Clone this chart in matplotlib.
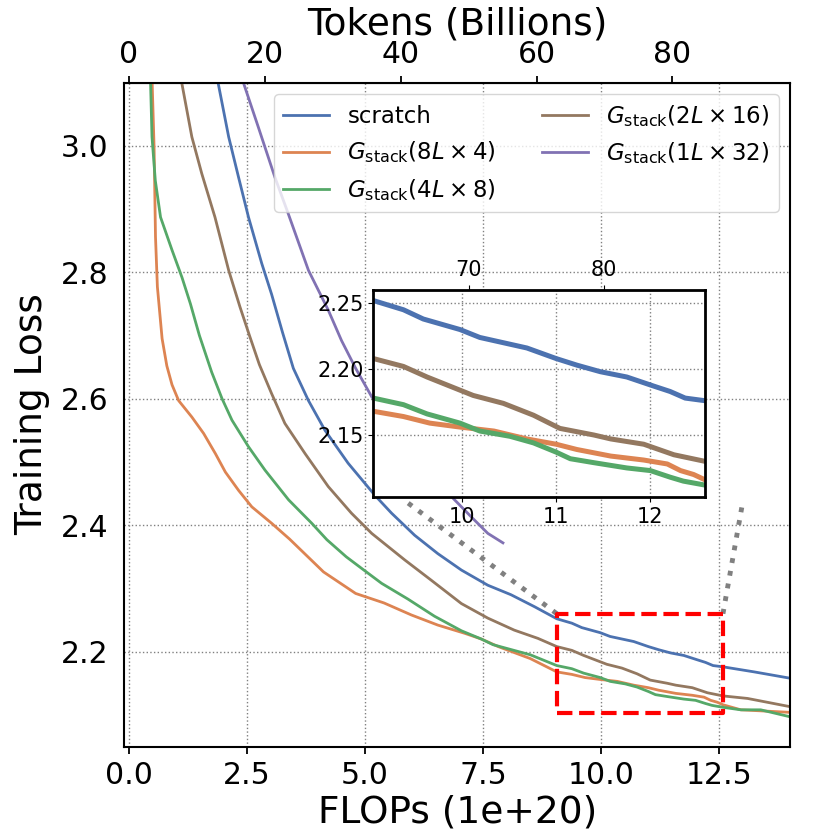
import matplotlib
matplotlib.use("Agg")
import matplotlib.pyplot as plt
from matplotlib.ticker import FormatStrFormatter

# FLOPs (1e+20) -> training loss
scratch_x = [1.84, 1.89, 2.11, 2.32, 2.53, 2.81, 3.02, 3.25, 3.48, 3.80, 4.15, 4.64, 5.21, 5.56, 6.05,
             6.54, 7.04, 7.60, 8.09, 8.59, 9.06, 9.38, 9.59, 9.98, 10.19, 10.44, 10.69, 11.0, 11.22,
             11.47, 11.75, 12.04, 12.21, 12.37, 12.58, 13.24, 14.0]
scratch_y = [3.12, 3.098, 3.014, 2.950, 2.887, 2.814, 2.765, 2.705, 2.648, 2.597, 2.550, 2.498, 2.447,
             2.419, 2.384, 2.355, 2.329, 2.305, 2.290, 2.271, 2.252, 2.245, 2.238, 2.230, 2.224, 2.220,
             2.216, 2.208, 2.203, 2.198, 2.194, 2.187, 2.183, 2.178, 2.176, 2.168, 2.158]

g8_x = [0.48, 0.49, 0.53, 0.56, 0.60, 0.70, 0.80, 0.91, 1.05, 1.33, 1.58, 1.83, 2.04, 2.32, 2.60, 3.02,
        3.40, 4.12, 4.8, 5.4, 5.98, 6.54, 7.11, 7.46, 7.82, 8.50, 9.06, 9.38, 9.66, 9.98, 10.34, 10.69,
        11.0, 11.22, 11.58, 11.93, 12.18, 12.32, 12.46, 12.58, 12.96, 14.0]
g8_y = [3.12, 3.098, 2.998, 2.856, 2.777, 2.695, 2.652, 2.622, 2.597, 2.571, 2.545, 2.513, 2.484, 2.455,
        2.429, 2.403, 2.378, 2.326, 2.292, 2.277, 2.258, 2.242, 2.229, 2.220, 2.208, 2.189, 2.168, 2.164,
        2.159, 2.156, 2.153, 2.147, 2.143, 2.139, 2.134, 2.131, 2.128, 2.123, 2.120, 2.116, 2.108, 2.104]

g4_x = [0.45, 0.456, 0.486, 0.556, 0.667, 0.91, 1.12, 1.30, 1.49, 1.75, 1.97, 2.18, 2.53, 2.88, 3.38,
        3.87, 4.19, 4.60, 4.92, 5.35, 5.91, 6.47, 7.04, 7.46, 7.71, 8.5, 9.06, 9.38, 9.63, 9.98, 10.19,
        10.51, 10.76, 11.0, 11.15, 11.40, 11.75, 12.0, 12.21, 12.35, 12.58, 12.96, 13.38, 14.0]
g4_y = [3.12, 3.098, 3.014, 2.945, 2.887, 2.835, 2.792, 2.750, 2.700, 2.642, 2.600, 2.566, 2.524, 2.487,
        2.440, 2.403, 2.377, 2.350, 2.332, 2.308, 2.283, 2.256, 2.233, 2.220, 2.211, 2.195, 2.178, 2.173,
        2.166, 2.159, 2.153, 2.149, 2.144, 2.137, 2.132, 2.129, 2.125, 2.123, 2.118, 2.115, 2.112, 2.108,
        2.108, 2.097]

g2_x = [1.08, 1.12, 1.33, 1.54, 1.82, 2.11, 2.35, 2.55, 2.76, 3.02, 3.30, 3.73, 4.22, 4.71, 5.14, 5.84,
        6.40, 7.04, 7.60, 8.16, 8.66, 9.06, 9.38, 9.63, 9.98, 10.12, 10.44, 10.76, 11.04, 11.40, 11.58,
        11.93, 12.25, 12.58, 13.10, 14.0]
g2_y = [3.12, 3.098, 3.014, 2.956, 2.887, 2.803, 2.745, 2.700, 2.654, 2.608, 2.561, 2.513, 2.461, 2.419,
        2.387, 2.345, 2.313, 2.276, 2.253, 2.234, 2.221, 2.208, 2.202, 2.194, 2.184, 2.180, 2.174, 2.165,
        2.155, 2.150, 2.147, 2.143, 2.135, 2.130, 2.126, 2.113]

g1_x = [2.40, 2.43, 2.74, 3.09, 3.37, 3.80, 4.22, 4.50, 4.80, 5.14, 6.87, 7.25, 7.60, 7.92]
g1_y = [3.12, 3.098, 3.029, 2.950, 2.893, 2.803, 2.740, 2.692, 2.648, 2.603, 2.442, 2.413, 2.387, 2.372]

labels = ["scratch",
          r"$G_{\rm stack}(8L\times4)$",
          r"$G_{\rm stack}(4L\times8)$",
          r"$G_{\rm stack}(2L\times16)$",
          r"$G_{\rm stack}(1L\times32)$"]
colors = ["#4C72B0", "#DD8452", "#55A868", "#937860", "#8172B3"]
series = [(scratch_x, scratch_y), (g8_x, g8_y), (g4_x, g4_y), (g2_x, g2_y), (g1_x, g1_y)]

TOK_PER_FLOP = 6.95  # billions of tokens per 1e20 FLOPs

zoom_x = (9.06, 12.58)
zoom_y = (2.1027, 2.26)
# where the dotted guide lines end
guide_ends = [(5.91, 2.435), (13.0, 2.437)]


def to_tokens(f):
    return f * TOK_PER_FLOP


def to_flops(t):
    return t / TOK_PER_FLOP


fig = plt.figure(figsize=(8.3, 8.3), dpi=100)
ax = fig.add_axes([0.1498, 0.1006, 0.802, 0.80])

for (x, y), lab, c in zip(series, labels, colors):
    ax.plot(x, y, color=c, lw=2, label=lab)

ax.set_xlim(-0.1, 14.0)
ax.set_ylim(2.05, 3.1)
ax.set_xticks([0, 2.5, 5, 7.5, 10, 12.5])
ax.set_yticks([2.2, 2.4, 2.6, 2.8, 3.0])
ax.tick_params(axis='both', labelsize=21.5)
ax.tick_params(axis='x', length=5, width=1.3, pad=5.5)
ax.tick_params(axis='y', length=0, pad=11.5)
ax.grid(True, linestyle=':', color='gray', lw=1)
ax.set_xlabel('FLOPs (1e+20)', fontsize=27, labelpad=3)
ax.set_ylabel('Training Loss', fontsize=27, labelpad=8)
for s in ax.spines.values():
    s.set_linewidth(1.5)

top = ax.secondary_xaxis('top', functions=(to_tokens, to_flops))
top.set_xticks([0, 20, 40, 60, 80])
top.tick_params(labelsize=21.5, length=5, width=1.3, pad=4.5)
top.set_xlabel('Tokens (Billions)', fontsize=27, labelpad=4)

ax.legend(loc='upper right', ncol=2, fontsize=16.5, framealpha=0.8)

# zoom box and guide lines
ax.plot([zoom_x[0], zoom_x[1], zoom_x[1], zoom_x[0], zoom_x[0]],
        [zoom_y[0], zoom_y[0], zoom_y[1], zoom_y[1], zoom_y[0]],
        color='red', ls='--', lw=3, zorder=5)
ax.plot([zoom_x[0], guide_ends[0][0]], [zoom_y[1], guide_ends[0][1]], color='gray', ls=':', lw=3.5)
ax.plot([zoom_x[1], guide_ends[1][0]], [zoom_y[1], guide_ends[1][1]], color='gray', ls=':', lw=3.5)

# inset
axins = fig.add_axes([0.4498, 0.4008, 0.3996, 0.2498])
for (x, y), c in zip(series, colors):
    axins.plot(x, y, color=c, lw=3.6)
axins.set_xlim(*zoom_x)
axins.set_ylim(*zoom_y)
axins.set_xticks([10, 11, 12])
axins.set_yticks([2.15, 2.20, 2.25])
axins.yaxis.set_major_formatter(FormatStrFormatter('%.2f'))
axins.tick_params(labelsize=15)
axins.grid(True, linestyle=':', color='gray', lw=1)
for s in axins.spines.values():
    s.set_linewidth(2)

itop = axins.secondary_xaxis('top', functions=(to_tokens, to_flops))
itop.set_xticks([70, 80])
itop.tick_params(labelsize=15)

fig.savefig('out.png', dpi=100)
